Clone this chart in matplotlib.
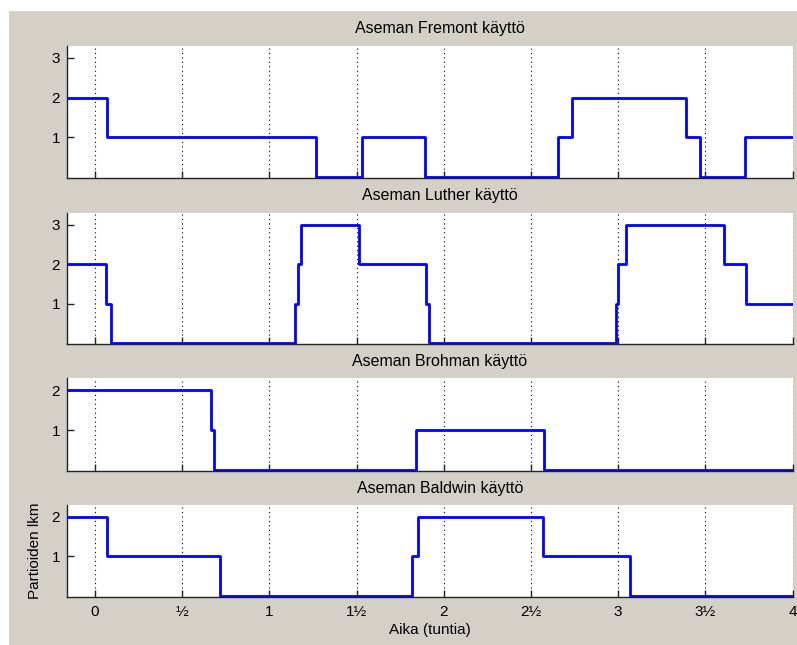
import matplotlib
matplotlib.use("Agg")
import matplotlib.pyplot as plt
from matplotlib.patches import Rectangle

# ---- data (time in hours, number of patrols) ----
fremont_t = [-0.16, 0.067, 1.27, 1.53, 1.894, 2.654, 2.734, 3.389, 3.471, 3.729, 4.0]
fremont_n = [2, 1, 0, 1, 0, 1, 2, 1, 0, 1, 1]

luther_t = [-0.16, 0.063, 0.092, 1.145, 1.164, 1.184, 1.514, 1.90, 1.915,
            2.988, 2.997, 3.045, 3.608, 3.732, 4.0]
luther_n = [2, 1, 0, 1, 2, 3, 2, 1, 0, 1, 2, 3, 2, 1, 1]

brohman_t = [-0.16, 0.663, 0.682, 1.842, 2.574, 4.0]
brohman_n = [2, 1, 0, 1, 0, 0]

baldwin_t = [-0.16, 0.071, 0.716, 1.82, 1.852, 2.568, 3.068, 4.0]
baldwin_n = [2, 1, 0, 1, 2, 1, 0, 0]

titles = ["Aseman Fremont käyttö", "Aseman Luther käyttö",
          "Aseman Brohman käyttö", "Aseman Baldwin käyttö"]
x_ticks = [0, 0.5, 1, 1.5, 2, 2.5, 3, 3.5, 4]
x_ticklabels = ["0", "½", "1", "1½", "2", "2½", "3", "3½", "4"]
y_ticks_big = [1, 2, 3]
y_ticks_small = [1, 2]
x_label = "Aika (tuntia)"
y_label = "Partioiden lkm"

series = [(fremont_t, fremont_n), (luther_t, luther_n),
          (brohman_t, brohman_n), (baldwin_t, baldwin_n)]

plt.rcParams['font.family'] = ['Liberation Sans', 'DejaVu Sans']
plt.rcParams['font.size'] = 11

W, H = 797, 645
fig = plt.figure(figsize=(W / 100, H / 100), dpi=100, facecolor='white')
fig.add_artist(Rectangle((9 / W, 0), 1 - 9 / W, 1 - 11 / H, transform=fig.transFigure,
                         facecolor='#D4D0C8', edgecolor='none', zorder=-10))

left, right = 67, 792.5
boxes = [(46, 178), (212.7, 344.3), (378.3, 470.7), (505, 596.7)]
ylims = [(-0.03, 3.3), (-0.03, 3.3), (-0.01, 2.3), (-0.02, 2.3)]
yticks_list = [y_ticks_big, y_ticks_big, y_ticks_small, y_ticks_small]

for i, ((top, bot), (t, n)) in enumerate(zip(boxes, series)):
    ax = fig.add_axes([left / W, 1 - bot / H, (right - left) / W, (bot - top) / H])
    ax.set_facecolor('white')
    ax.step(t, n, where='post', color='#0000FF', lw=2.0, zorder=3)
    ax.set_xlim(-0.16, 4.0)
    ax.set_ylim(*ylims[i])
    ax.set_xticks(x_ticks)
    ax.set_yticks(yticks_list[i])
    for xt in x_ticks:
        ax.axvline(xt, color='black', lw=0.8, ls=(0, (1, 3)), zorder=1)
    ax.spines['top'].set_visible(False)
    ax.spines['right'].set_visible(False)
    for s in ('left', 'bottom'):
        ax.spines[s].set_color('#222222')
        ax.spines[s].set_linewidth(1.0)
    ax.tick_params(direction='in', length=5, width=1, color='#222222',
                   labelsize=11, pad=5)
    ax.tick_params(axis='x', pad=6)
    if i == 3:
        ax.set_xticklabels(x_ticklabels)
        ax.set_xlabel(x_label, fontsize=11, labelpad=3)
        ax.set_ylabel(y_label, fontsize=11, labelpad=7)
    else:
        ax.set_xticklabels([])
    ax.set_title(titles[i], fontsize=11.5, x=0.514, pad=9)

fig.savefig("out.png", dpi=100, facecolor=fig.get_facecolor())
